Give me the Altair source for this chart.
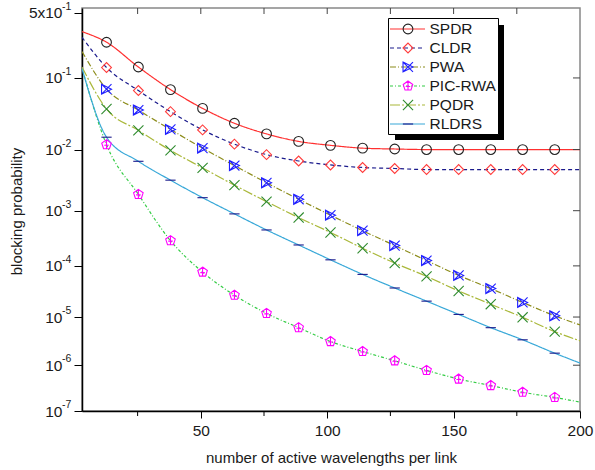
import altair as alt
import pandas as pd

FONT = "Liberation Sans"

# ---------------- data ----------------
series = ["SPDR", "CLDR", "PWA", "PIC-RWA", "PQDR", "RLDRS"]

# x positions of the curves: start, 15 marker positions, end
x_line = [3, 12.7, 25.3, 38.0, 50.7, 63.3, 76.0, 88.7, 101.3, 114.0, 126.7,
          139.3, 152.0, 164.7, 177.3, 190.0, 200]

spdr = [0.333, 0.259, 0.136, 0.0711, 0.0398, 0.0246, 0.0172, 0.0133, 0.0116,
        0.0105, 0.0102, 0.0100, 0.0100, 0.0100, 0.0100, 0.0100, 0.0100]
cldr = [0.292, 0.134, 0.0691, 0.0359, 0.0197, 0.0121, 0.00835, 0.00664,
        0.00575, 0.00524, 0.00505, 0.00486, 0.00486, 0.00486, 0.00486,
        0.00486, 0.00486]
pwa = [0.2055, 0.0720, 0.0378, 0.0200, 0.01053, 0.00563, 0.00296, 0.00157,
       0.000835, 0.000444, 0.000239, 0.000126, 6.60e-5, 3.67e-5, 1.96e-5,
       1.06e-5, 6.90e-6]
pic_rwa = [0.132, 0.01185, 0.0019, 0.000294, 7.63e-5, 2.72e-5, 1.185e-5,
           6.08e-6, 3.15e-6, 1.95e-6, 1.24e-6, 7.75e-7, 5.04e-7, 3.65e-7,
           2.60e-7, 2.00e-7, 1.58e-7]
pqdr = [0.136, 0.0391, 0.0194, 0.00971, 0.00516, 0.00271, 0.00143, 0.000759,
        0.000413, 0.000213, 0.000113, 6.32e-5, 3.30e-5, 1.81e-5, 9.87e-6,
        5.05e-6, 3.26e-6]
rldrs = [0.13, 0.01538, 0.00657, 0.00327, 0.00167, 0.00088, 0.000458,
         0.000245, 0.000130, 6.89e-5, 3.77e-5, 2.08e-5, 1.13e-5, 6.08e-6,
         3.42e-6, 1.80e-6, 1.11e-6]

x_major_ticks = [50, 100, 150, 200]
x_minor_ticks = [25, 75, 125, 175]
x_top_ticks = [25, 50, 75, 100, 125, 150, 175]
y_tick_p = [5e-1, 1e-1, 1e-2, 1e-3, 1e-4, 1e-5, 1e-6, 1e-7]
y_tick_exp = ["-1", "-1", "-2", "-3", "-4", "-5", "-6", "-7"]
y_right_tick_p = [1e-1, 1e-2, 1e-3, 1e-4, 1e-5, 1e-6]

# ---------------- styles ----------------
line_colors = ["#ff3030", "#1a1a8c", "#8c8c1a", "#33cc44", "#aab83a", "#38a8d8"]
line_dashes = [[1, 0], [4, 3], [6, 2, 1, 2], [3, 2, 1, 2], [10, 2, 2, 2], [1, 0]]
marker_colors = ["#222222", "#ff3b3b", "#1f1fff", "#ff00ff", "#2e8b2e", "#1a1a8c"]
marker_shapes = [
    "circle",
    "diamond",
    "M-1,-1L1,0L-1,1Z M-1,-1L1,1 M-1,1L1,-1",
    "M0,-1L0.951,-0.309L0.588,0.809L-0.588,0.809L-0.951,-0.309Z M0,-1L0,0.809 M-0.45,0.1L0.45,0.1",
    "M-1,-1L1,1 M-1,1L1,-1",
    "M-1,0L1,0",
]
marker_sizes = [95, 105, 130, 105, 125, 64]
marker_widths = [1.1, 1.1, 1.3, 1.1, 1.1, 2]

values = {"SPDR": spdr, "CLDR": cldr, "PWA": pwa, "PIC-RWA": pic_rwa,
          "PQDR": pqdr, "RLDRS": rldrs}
rows = []
for s in series:
    for i, (xv, pv) in enumerate(zip(x_line, values[s])):
        rows.append({"series": s, "x": xv, "p": pv,
                     "marker": 0 < i < len(x_line) - 1})
df = pd.DataFrame(rows)

W, H = 498, 403
K_EXPR = "-log(datum.p)/LN10"
TXT = "#1a1a1a"

xscale = alt.Scale(domain=[3, 200], nice=False, zero=False)
yscale = alt.Scale(type="pow", exponent=0.7, domain=[0.2605, 7],
                   reverse=True, nice=False, zero=False)

color_s = alt.Color("series:N", scale=alt.Scale(domain=series, range=line_colors), legend=None)
dash_s = alt.StrokeDash("series:N", scale=alt.Scale(domain=series, range=line_dashes), legend=None)
stroke_s = alt.Stroke("series:N", scale=alt.Scale(domain=series, range=marker_colors), legend=None)
shape_s = alt.Shape("series:N", scale=alt.Scale(domain=series, range=marker_shapes), legend=None)
size_s = alt.Size("series:N", scale=alt.Scale(domain=series, range=marker_sizes), legend=None)
sw_s = alt.StrokeWidth("series:N", scale=alt.Scale(domain=series, range=marker_widths), legend=None)

y_tick_k = [0.30103, 1, 2, 3, 4, 5, 6, 7]

lines = alt.Chart(df).transform_calculate(k=K_EXPR).mark_line(
    interpolate="monotone", strokeWidth=1.2, clip=True
).encode(
    x=alt.X("x:Q", scale=xscale, axis=alt.Axis(
        values=x_major_ticks, tickSize=7, labelPadding=5, labelFlush=False,
        labelOverlap=False, title="number of active wavelengths per link",
        titleY=46, titleBaseline="middle")),
    y=alt.Y("k:Q", scale=yscale, axis=alt.Axis(
        values=y_tick_k, labelExpr="datum.value < 0.5 ? '5x10' : '10'",
        tickSize=8, labelPadding=12,
        labelOverlap=False, title="blocking probability",
        titleX=-65.5, titleY=203, titleBaseline="middle")),
    color=color_s,
    strokeDash=dash_s,
)

points = alt.Chart(df).transform_filter("datum.marker").transform_calculate(k=K_EXPR).mark_point(
    filled=False, opacity=1
).encode(
    x="x:Q", y="k:Q",
    shape=shape_s, stroke=stroke_s, size=size_s, strokeWidth=sw_s,
)

# superscript exponents of the y tick labels
exp_df = pd.DataFrame({"p": y_tick_p, "exp": y_tick_exp})
exps = alt.Chart(exp_df).transform_calculate(k=K_EXPR).mark_text(
    align="left", baseline="middle", fontSize=10.5, font=FONT, color=TXT, dy=-6
).encode(x=alt.value(-20), y="k:Q", text="exp:N")

minor_bottom = alt.Chart(pd.DataFrame({"x": x_minor_ticks})).mark_rule(
    color="black", strokeWidth=1
).encode(x="x:Q", y=alt.value(H), y2=alt.value(H + 5))

top_ticks = alt.Chart(pd.DataFrame({"x": x_top_ticks})).mark_rule(
    color="#444444", strokeWidth=1
).encode(x="x:Q", y=alt.value(0), y2=alt.value(6))

right_ticks = alt.Chart(pd.DataFrame({"p": y_right_tick_p})).transform_calculate(k=K_EXPR).mark_rule(
    color="#444444", strokeWidth=1
).encode(y="k:Q", x=alt.value(W - 7), x2=alt.value(W))

main = alt.layer(lines, points, exps, minor_bottom, top_ticks, right_ticks)

# ---------------- legend ----------------
leg_df = pd.DataFrame({"series": series, "row": list(range(len(series)))})
one = pd.DataFrame({"a": [0]})
leg_y = alt.Y("row:Q", scale=alt.Scale(domain=[0, 5], range=[21, 116]), axis=None)

shadow = alt.Chart(one).mark_rect(color="black").encode(
    x=alt.value(313), x2=alt.value(422), y=alt.value(17), y2=alt.value(132))
box = alt.Chart(one).mark_rect(fill="white", stroke="black", strokeWidth=1).encode(
    x=alt.value(306.5), x2=alt.value(416.5), y=alt.value(10.5), y2=alt.value(126.5))
leg_lines = alt.Chart(leg_df).mark_rule(strokeWidth=1.2).encode(
    x=alt.value(308), x2=alt.value(343), y=leg_y, color=color_s, strokeDash=dash_s)
leg_points = alt.Chart(leg_df).mark_point(filled=False, opacity=1).encode(
    x=alt.value(326), y=leg_y, shape=shape_s, stroke=stroke_s, size=size_s, strokeWidth=sw_s)
leg_text = alt.Chart(leg_df).mark_text(
    align="left", baseline="middle", fontSize=15.5, font=FONT, color=TXT
).encode(x=alt.value(347.5), y=leg_y, text="series:N")

legend = alt.layer(shadow, box, leg_lines, leg_points, leg_text)

chart = alt.layer(main, legend).resolve_scale(y="independent").properties(
    width=W, height=H,
    autosize=alt.AutoSizeParams(type="none"),
    padding={"left": 82, "top": 8, "right": 15, "bottom": 59},
).configure_view(
    stroke="#888888", strokeWidth=1.5
).configure_axis(
    grid=False, domainColor="black", domainWidth=1.5, tickColor="black",
    tickWidth=1, labelFont=FONT, labelFontSize=15.5, labelColor=TXT,
    titleFont=FONT, titleFontSize=15, titleColor=TXT,
    titleFontWeight="normal",
)

chart.save("out.html", embed_options={"renderer": "svg", "actions": False})
